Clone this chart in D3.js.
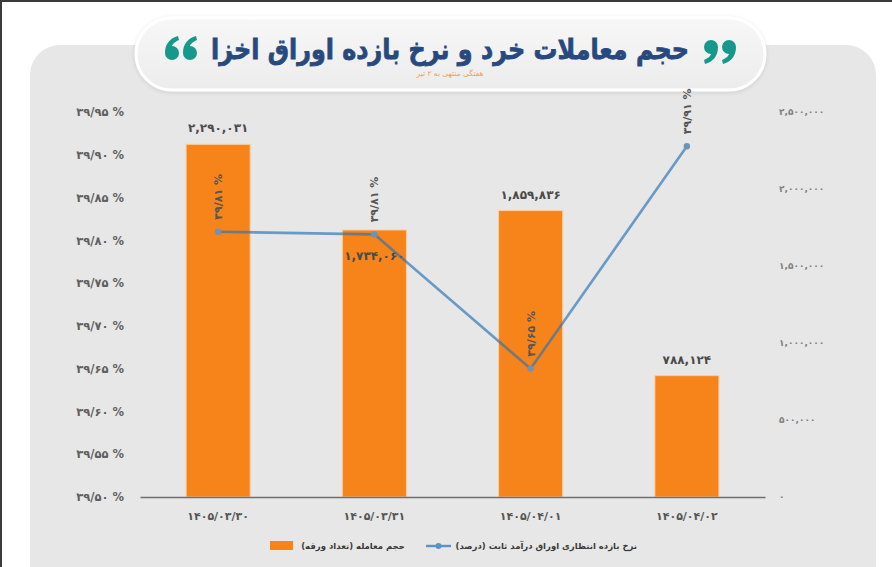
<!DOCTYPE html>
<html lang="fa">
<head>
  <meta charset="UTF-8">
  <title>حجم معاملات خرد و نرخ بازده اوراق اخزا</title>
  <script src="https://d3js.org/d3.v7.min.js"></script>
  <style>
    body { margin: 0; background: #fff; font-family: "DejaVu Sans", sans-serif; }
    svg { display: block; }
  </style>
</head>
<body>
  <div id="chart"></div>
  <script>
    // Data
    const dates = ["1405/03/30", "1405/03/31", "1405/04/01", "1405/04/02"];
    const volumes = [2290031, 1734060, 1859836, 788124];
    const yields = [39.81, 39.807, 39.65, 39.91];
    const leftTicks = [39.5, 39.55, 39.6, 39.65, 39.7, 39.75, 39.8, 39.85, 39.9, 39.95];
    const rightTicks = [0, 500000, 1000000, 1500000, 2000000, 2500000];
    const title = "حجم معاملات خرد و نرخ بازده اوراق اخزا";
    const subtitle = "هفتگی منتهی به ۲ تیر";
    const legendBar = "حجم معامله (تعداد ورقه)";
    const legendLine = "نرخ بازده انتظاری اوراق درآمد ثابت (درصد)";

    const width = 892, height = 567;
    const plot = { left: 140, right: 765, top: 112, bottom: 497 };

    // latin digits -> persian digits
    const fa = s => String(s).replace(/[0-9]/g, d => "۰۱۲۳۴۵۶۷۸۹"[d]);
    const fmtNum = v => fa(d3.format(",")(v));
    const fmtPct = v => fa(d3.format(".2f")(v).replace(".", "/")) + " %";

    const svg = d3.select("#chart").append("svg")
      .attr("width", width)
      .attr("height", height);

    // screenshot frame edge
    svg.append("rect").attr("x", 0).attr("y", 0).attr("width", width).attr("height", 2).attr("fill", "#3a3a3a");
    svg.append("rect").attr("x", 0).attr("y", 0).attr("width", 2).attr("height", height).attr("fill", "#3a3a3a");

    // gray card
    svg.append("rect")
      .attr("x", 30).attr("y", 45)
      .attr("width", 846).attr("height", 560)
      .attr("rx", 30)
      .attr("fill", "#e7e7e7");

    // title pill
    const defs = svg.append("defs");
    const grad = defs.append("linearGradient").attr("id", "pill").attr("x1", 0).attr("y1", 0).attr("x2", 0).attr("y2", 1);
    grad.append("stop").attr("offset", "0%").attr("stop-color", "#f7f7f7");
    grad.append("stop").attr("offset", "100%").attr("stop-color", "#ececec");
    const shadow = defs.append("filter").attr("id", "shadow").attr("x", "-10%").attr("y", "-30%").attr("width", "120%").attr("height", "160%");
    shadow.append("feDropShadow").attr("dx", 0).attr("dy", 1).attr("stdDeviation", 2).attr("flood-color", "#000").attr("flood-opacity", 0.12);

    svg.append("rect")
      .attr("x", 136).attr("y", 18)
      .attr("width", 629).attr("height", 72)
      .attr("rx", 36)
      .attr("fill", "url(#pill)")
      .attr("stroke", "#fff")
      .attr("stroke-width", 3)
      .attr("filter", "url(#shadow)");

    svg.append("text")
      .attr("x", 450).attr("y", 59)
      .attr("text-anchor", "middle")
      .attr("direction", "rtl")
      .attr("font-size", 28)
      .attr("font-weight", "bold")
      .attr("fill", "#28497e")
      .attr("stroke", "#28497e")
      .attr("stroke-width", 0.8)
      .attr("textLength", 478)
      .attr("lengthAdjust", "spacingAndGlyphs")
      .text(title);

    svg.append("text")
      .attr("x", 450).attr("y", 76)
      .attr("text-anchor", "middle")
      .attr("font-size", 7.5)
      .attr("fill", "#eea24f")
      .text(subtitle);

    // quote marks, drawn as comma shapes ("66" on the left, "99" on the right)
    const comma = "M 7,0 A 7,7 0 1,1 -7,0 C -7,-9 -2,-15 6,-17 L 7,-13 C 2,-11 0,-8 0,-7 A 7,7 0 0,1 7,0 Z";
    const quotes = svg.append("g").attr("fill", "#16998a");
    [[172, 53, 0], [190, 53, 0], [711, 47, 180], [729, 47, 180]].forEach(([qx, qy, r]) => {
      quotes.append("path")
        .attr("d", comma)
        .attr("transform", `translate(${qx},${qy}) rotate(${r})`);
    });

    // scales
    const x = d3.scaleBand()
      .domain(dates)
      .range([plot.left, plot.right])
      .paddingInner(0.59)
      .paddingOuter(0.295);

    const yLeft = d3.scaleLinear().domain([39.5, 39.95]).range([plot.bottom, plot.top]);
    const yRight = d3.scaleLinear().domain([0, 2500000]).range([plot.bottom, plot.top]);

    // bars
    svg.append("g").selectAll("rect")
      .data(volumes)
      .join("rect")
      .attr("x", (d, i) => x(dates[i]))
      .attr("y", d => yRight(d))
      .attr("width", x.bandwidth())
      .attr("height", d => plot.bottom - yRight(d))
      .attr("fill", "#f7841a")
      .attr("stroke", "#fbcf9f")
      .attr("stroke-width", 1);

    // bar value labels (inside the bar when the line sits on its top)
    svg.append("g").selectAll("text")
      .data(volumes)
      .join("text")
      .attr("x", (d, i) => x(dates[i]) + x.bandwidth() / 2)
      .attr("y", (d, i) => {
        const top = yRight(d);
        const ly = yLeft(yields[i]);
        return Math.abs(ly - top) < 20 ? top + 30 : top - 12;
      })
      .attr("text-anchor", "middle")
      .attr("font-size", 12)
      .attr("font-weight", "bold")
      .attr("fill", "#4a4a4a")
      .text(d => fmtNum(d));

    // axes
    const leftAxis = svg.append("g")
      .attr("transform", `translate(${plot.left - 16},0)`)
      .call(d3.axisLeft(yLeft).tickValues(leftTicks).tickSize(0).tickPadding(0).tickFormat(fmtPct));
    leftAxis.select(".domain").remove();
    leftAxis.selectAll("text")
      .attr("font-family", "DejaVu Sans")
      .attr("font-size", 11.5)
      .attr("font-weight", "bold")
      .attr("fill", "#5f5f5f");

    const rightAxis = svg.append("g")
      .attr("transform", `translate(${plot.right + 14},0)`)
      .call(d3.axisRight(yRight).tickValues(rightTicks).tickSize(0).tickPadding(0).tickFormat(fmtNum));
    rightAxis.select(".domain").remove();
    rightAxis.selectAll("text")
      .attr("font-family", "DejaVu Sans")
      .attr("font-size", 9)
      .attr("font-weight", "bold")
      .attr("fill", "#808080");

    const bottomAxis = svg.append("g")
      .attr("transform", `translate(0,${plot.bottom})`)
      .call(d3.axisBottom(x).tickSize(0).tickPadding(15).tickFormat(fa));
    bottomAxis.select(".domain")
      .attr("stroke", "#6f6f6f")
      .attr("stroke-width", 1.6);
    bottomAxis.selectAll("text")
      .attr("font-family", "DejaVu Sans")
      .attr("font-size", 11)
      .attr("font-weight", "bold")
      .attr("fill", "#555");

    // yield line
    const cx = i => x(dates[i]) + x.bandwidth() / 2;
    const line = d3.line()
      .x((d, i) => cx(i))
      .y(d => yLeft(d));

    svg.append("path")
      .datum(yields)
      .attr("fill", "none")
      .attr("stroke", "#2e75b6")
      .attr("stroke-width", 2.6)
      .attr("stroke-opacity", 0.68)
      .attr("d", line);

    svg.append("g").selectAll("circle")
      .data(yields)
      .join("circle")
      .attr("cx", (d, i) => cx(i))
      .attr("cy", d => yLeft(d))
      .attr("r", 3.2)
      .attr("fill", "#6f93b5");

    // rotated yield labels
    svg.append("g").selectAll("text")
      .data(yields)
      .join("text")
      .attr("transform", (d, i) => `translate(${cx(i) + 4},${yLeft(d) - 12}) rotate(-90)`)
      .attr("text-anchor", "start")
      .attr("font-size", 11)
      .attr("font-weight", "bold")
      .attr("fill", "#555")
      .text(d => fmtPct(d));

    // legend (rtl text: anchor "start" is the right edge)
    const legend = svg.append("g").attr("font-size", 8.5).attr("font-weight", "bold").attr("fill", "#3a3a3a");
    legend.append("rect")
      .attr("x", 270).attr("y", 541)
      .attr("width", 23).attr("height", 9)
      .attr("fill", "#f7841a");
    legend.append("text")
      .attr("x", 405).attr("y", 549)
      .attr("text-anchor", "start")
      .attr("direction", "rtl")
      .text(legendBar);
    legend.append("line")
      .attr("x1", 426).attr("x2", 451)
      .attr("y1", 546).attr("y2", 546)
      .attr("stroke", "#5b93c9")
      .attr("stroke-width", 2.4);
    legend.append("circle")
      .attr("cx", 438.5).attr("cy", 546).attr("r", 3)
      .attr("fill", "#5b93c9");
    legend.append("text")
      .attr("x", 637).attr("y", 549)
      .attr("text-anchor", "start")
      .attr("direction", "rtl")
      .text(legendLine);
  </script>
</body>
</html>
